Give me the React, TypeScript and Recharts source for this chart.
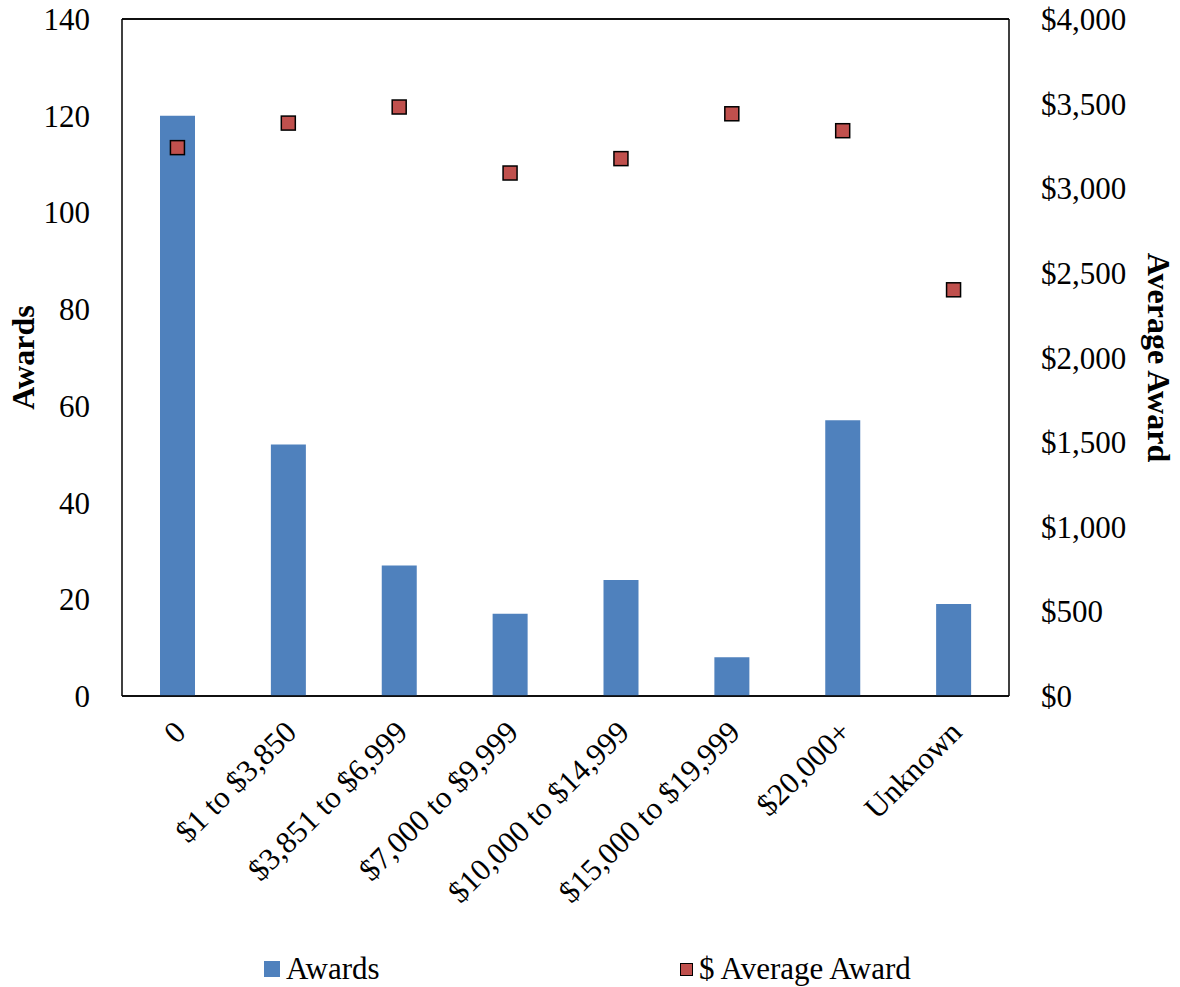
import React from 'react';
import {
  ComposedChart,
  Bar,
  Scatter,
  XAxis,
  YAxis,
  CartesianGrid,
  Legend,
  ReferenceLine,
} from 'recharts';

const categories = [
  '0',
  '$1 to $3,850',
  '$3,851 to $6,999',
  '$7,000 to $9,999',
  '$10,000 to $14,999',
  '$15,000 to $19,999',
  '$20,000+',
  'Unknown',
];
const awards = [120, 52, 27, 17, 24, 8, 57, 19];
const averageAward = [3240, 3385, 3480, 3090, 3175, 3440, 3340, 2400];
const leftTicks = [0, 20, 40, 60, 80, 100, 120, 140];
const rightTicks = [0, 500, 1000, 1500, 2000, 2500, 3000, 3500, 4000];

const data = categories.map((name, i) => ({
  name,
  awards: awards[i],
  avg: averageAward[i],
}));

const FONT = '"Liberation Serif", "Times New Roman", serif';
const FS = 31;
const BLUE = '#4F81BD';
const RED = '#C0504D';

const money = (v: number) => '$' + v.toLocaleString('en-US');

function XTick(props: any) {
  const { x, y, payload } = props;
  return (
    <text
      transform={`translate(${x + 10},${y + 30}) rotate(-45)`}
      textAnchor="end"
      fontFamily={FONT}
      fontSize={FS}
      fill="#000"
    >
      {payload.value}
    </text>
  );
}

function SquareDot(props: any) {
  const { cx, cy } = props;
  if (cx == null || cy == null) return null;
  return <rect x={cx - 7} y={cy - 7} width={14} height={14} fill={RED} stroke="#000" strokeWidth={1.5} />;
}

function LegendContent() {
  return (
    <div
      style={{
        position: 'relative',
        height: 40,
        fontFamily: FONT,
        fontSize: FS,
        color: '#000',
        lineHeight: '40px',
      }}
    >
      <div style={{ position: 'absolute', left: 264, top: 2, display: 'flex', alignItems: 'center' }}>
        <span style={{ display: 'inline-block', width: 16, height: 16, background: BLUE, marginRight: 6 }} />
        Awards
      </div>
      <div style={{ position: 'absolute', left: 680, top: 2, display: 'flex', alignItems: 'center' }}>
        <span
          style={{
            display: 'inline-block',
            width: 11,
            height: 11,
            background: RED,
            border: '1.5px solid #000',
            marginRight: 6,
          }}
        />
        $ Average Award
      </div>
    </div>
  );
}

export default function App() {
  return (
    <div style={{ position: 'absolute', left: 0, top: 0, background: '#fff' }}>
      <ComposedChart
        width={1180}
        height={987}
        data={data}
        margin={{ top: 19, right: 0, left: 0, bottom: 0 }}
      >
        <CartesianGrid vertical={false} stroke="#000" strokeWidth={1.5} />
        <XAxis
          dataKey="name"
          interval={0}
          tick={<XTick />}
          tickLine={false}
          axisLine={{ stroke: '#000', strokeWidth: 1.5 }}
          height={251}
        />
        <YAxis
          yAxisId="left"
          domain={[0, 140]}
          ticks={leftTicks}
          width={122}
          tickLine={false}
          axisLine={{ stroke: '#000', strokeWidth: 1.5 }}
          tickMargin={26}
          tick={{ fontFamily: FONT, fontSize: FS, fill: '#000' }}
          label={{
            value: 'Awards',
            angle: -90,
            position: 'insideLeft',
            offset: 23,
            style: { fontFamily: FONT, fontSize: 32, fontWeight: 'bold', fill: '#000', textAnchor: 'middle' },
          }}
        />
        <YAxis
          yAxisId="right"
          orientation="right"
          domain={[0, 4000]}
          ticks={rightTicks}
          width={171}
          tickLine={false}
          axisLine={{ stroke: '#000', strokeWidth: 1.5 }}
          tickMargin={26}
          tickFormatter={money}
          tick={{ fontFamily: FONT, fontSize: FS, fill: '#000', textAnchor: 'start' }}
          label={{
            value: 'Average Award',
            angle: 90,
            position: 'insideRight',
            offset: 21,
            style: { fontFamily: FONT, fontSize: 32, fontWeight: 'bold', fill: '#000', textAnchor: 'middle' },
          }}
        />
        <ReferenceLine yAxisId="left" y={140} stroke="#000" strokeWidth={1.5} />
        <Bar yAxisId="left" dataKey="awards" name="Awards" fill={BLUE} barSize={35} isAnimationActive={false} />
        <Scatter
          yAxisId="right"
          dataKey="avg"
          name="$ Average Award"
          fill={RED}
          shape={<SquareDot />}
          isAnimationActive={false}
        />
        <Legend verticalAlign="bottom" height={40} content={<LegendContent />} />
      </ComposedChart>
    </div>
  );
}
